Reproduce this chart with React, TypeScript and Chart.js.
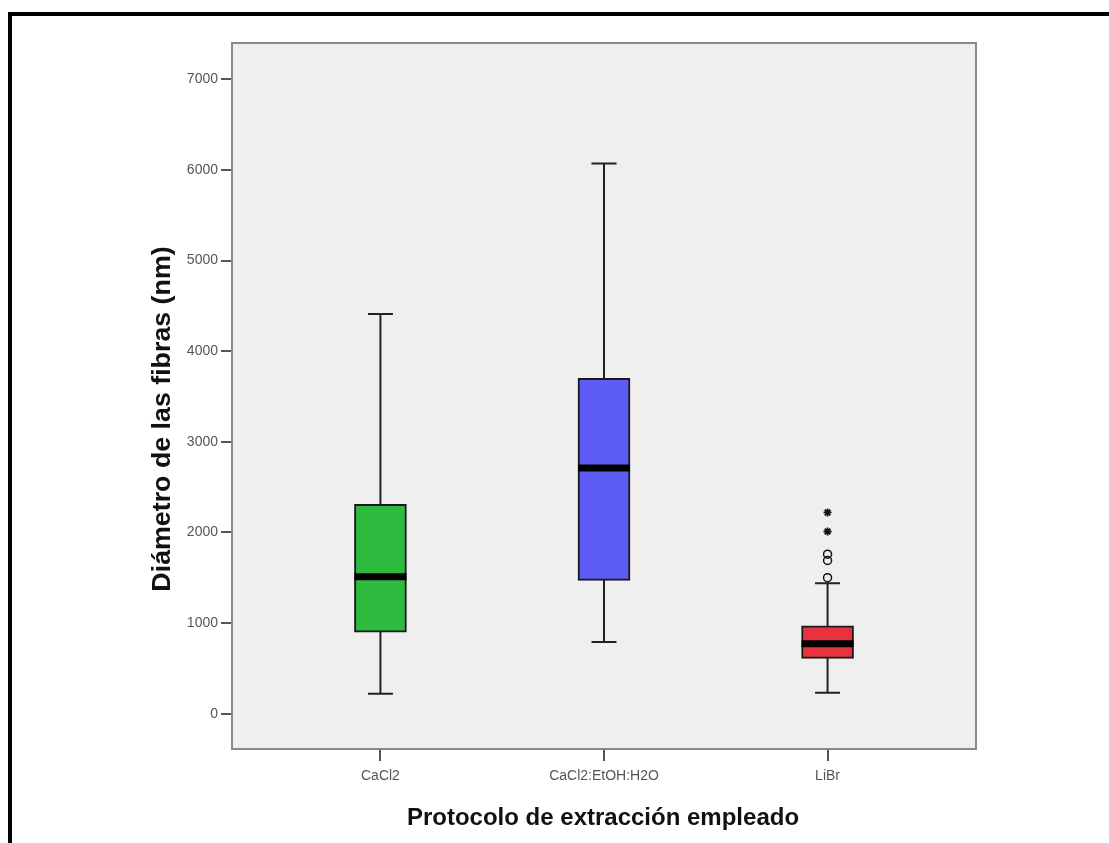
import React, { useEffect, useRef } from "react";
import { Chart, registerables } from "chart.js";

Chart.register(...registerables);

const categories = ["CaCl2", "CaCl2:EtOH:H2O", "LiBr"];
const whiskerLow = [220, 790, 230];
const q1 = [900, 1470, 610];
const medians = [1510, 2710, 770];
const q3 = [2310, 3700, 970];
const whiskerHigh = [4410, 6070, 1440];
const boxColors = ["#2dba3e", "#5d5df6", "#e8323f"];
const outlierCircleCat = [2, 2, 2];
const outlierCircleVals = [1500, 1690, 1760];
const outlierStarCat = [2, 2];
const outlierStarVals = [2010, 2220];
const yMin = -390;
const yMax = 7400;
const yTickValues = [0, 1000, 2000, 3000, 4000, 5000, 6000, 7000];
const xTickValues = [0, 1, 2];

const xTitle = "Protocolo de extracción empleado";
const yTitle = "Diámetro de las fibras (nm)";

const boxPlugin = {
  id: "boxParts",
  beforeDraw(chart: any) {
    const { ctx, chartArea: a } = chart;
    ctx.save();
    ctx.fillStyle = "#ffffff";
    ctx.fillRect(0, 0, chart.width, chart.height);
    ctx.fillStyle = "#efefef";
    ctx.fillRect(a.left, a.top, a.right - a.left, a.bottom - a.top);
    ctx.restore();
  },
  beforeDatasetsDraw(chart: any) {
    const { ctx } = chart;
    const xs = chart.scales.x;
    const ys = chart.scales.y;
    ctx.save();
    ctx.strokeStyle = "#222";
    ctx.lineWidth = 2;
    categories.forEach((_, i) => {
      const x = xs.getPixelForValue(i);
      const capHalf = 12.5;
      ctx.beginPath();
      ctx.moveTo(x, ys.getPixelForValue(whiskerLow[i]));
      ctx.lineTo(x, ys.getPixelForValue(whiskerHigh[i]));
      [whiskerLow[i], whiskerHigh[i]].forEach((v) => {
        const y = ys.getPixelForValue(v);
        ctx.moveTo(x - capHalf, y);
        ctx.lineTo(x + capHalf, y);
      });
      ctx.stroke();
    });
    ctx.restore();
  },
  afterDatasetsDraw(chart: any) {
    const { ctx } = chart;
    const xs = chart.scales.x;
    const ys = chart.scales.y;
    ctx.save();
    ctx.strokeStyle = "#000";
    ctx.lineWidth = 7;
    categories.forEach((_, i) => {
      const x = xs.getPixelForValue(i);
      const y = ys.getPixelForValue(medians[i]);
      ctx.beginPath();
      ctx.moveTo(x - 26, y);
      ctx.lineTo(x + 26, y);
      ctx.stroke();
    });
    ctx.restore();
  },
  afterDraw(chart: any) {
    const { ctx, chartArea: a } = chart;
    ctx.save();
    ctx.strokeStyle = "#8a8a8a";
    ctx.lineWidth = 2;
    ctx.strokeRect(a.left, a.top, a.right - a.left, a.bottom - a.top);
    ctx.fillStyle = "#000";
    ctx.fillRect(8, 12, chart.width - 8, 4);
    ctx.fillRect(8, 12, 4, chart.height - 12);
    ctx.fillStyle = "#111";
    ctx.font = 'bold 24px "Liberation Sans", Arial, sans-serif';
    ctx.textAlign = "center";
    ctx.textBaseline = "middle";
    ctx.fillText(xTitle, 603, 818);
    ctx.font = 'bold 26px "Liberation Sans", Arial, sans-serif';
    ctx.translate(163, 419);
    ctx.rotate(-Math.PI / 2);
    ctx.scale(1.03, 1);
    ctx.fillText(yTitle, 0, 0);
    ctx.restore();
  },
};

export default function App() {
  const ref = useRef<HTMLCanvasElement>(null);
  useEffect(() => {
    if (!ref.current) return;
    const chart = new Chart(ref.current, {
      type: "bar",
      data: {
        datasets: [
          {
            type: "bar",
            data: categories.map((_, i) => ({ x: i, y: [q1[i], q3[i]] })) as any,
            backgroundColor: boxColors,
            borderColor: "#1a1a1a",
            borderWidth: 2,
            borderSkipped: false,
            barThickness: 52,
            order: 2,
          } as any,
          {
            type: "scatter",
            data: outlierCircleVals.map((v, i) => ({ x: outlierCircleCat[i], y: v })),
            pointStyle: "circle",
            pointRadius: 4,
            borderColor: "#111",
            borderWidth: 1.5,
            backgroundColor: "rgba(0,0,0,0)",
            order: 1,
          } as any,
          {
            type: "scatter",
            data: outlierStarVals.map((v, i) => ({ x: outlierStarCat[i], y: v })),
            pointStyle: "star",
            pointRadius: 4,
            borderColor: "#111",
            borderWidth: 1.8,
            backgroundColor: "#111",
            order: 0,
          } as any,
        ],
      },
      options: {
        responsive: false,
        animation: false,
        layout: { padding: { top: 43, right: 133, left: 0, bottom: 0 } },
        plugins: { legend: { display: false }, tooltip: { enabled: false } },
        scales: {
          x: {
            type: "linear",
            min: -0.664,
            max: 2.664,
            offset: false,
            border: { display: false },
            grid: {
              display: true,
              offset: false,
              drawOnChartArea: false,
              drawTicks: true,
              tickLength: 12,
              color: "#555",
              lineWidth: 2,
            },
            afterBuildTicks: (s: any) => {
              s.ticks = xTickValues.map((v) => ({ value: v }));
            },
            ticks: {
              autoSkip: false,
              maxRotation: 0,
              padding: 7,
              color: "#555",
              font: { family: '"Liberation Sans", Arial, sans-serif', size: 14 },
              callback: (v: any) => categories[Number(v)] ?? "",
            },
            afterFit: (s: any) => {
              s.height = 94;
            },
          },
          y: {
            type: "linear",
            min: yMin,
            max: yMax,
            border: { display: false },
            grid: {
              display: true,
              drawOnChartArea: false,
              drawTicks: true,
              tickLength: 11,
              color: "#555",
              lineWidth: 2,
            },
            afterBuildTicks: (s: any) => {
              s.ticks = yTickValues.map((v) => ({ value: v }));
            },
            ticks: {
              autoSkip: false,
              padding: 3,
              color: "#555",
              font: { family: '"Liberation Sans", Arial, sans-serif', size: 14 },
              callback: (v: any) => String(v),
            },
            afterFit: (s: any) => {
              s.width = 232;
            },
          },
        },
      } as any,
      plugins: [boxPlugin],
    });
    return () => chart.destroy();
  }, []);
  return (
    <div style={{ position: "fixed", left: 0, top: 0, width: 1109, height: 843 }}>
      <canvas ref={ref} width={1109} height={843} style={{ width: 1109, height: 843, display: "block" }} />
    </div>
  );
}
